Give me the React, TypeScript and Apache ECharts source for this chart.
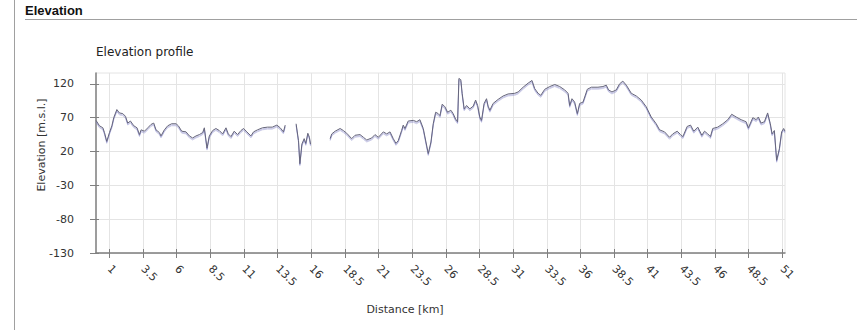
import React, { useEffect, useRef } from "react";
import * as echarts from "echarts";

const distanceKm: number[] = [
  0, 0.26, 0.51, 0.63, 0.8, 1.0, 1.18, 1.32, 1.55, 1.74, 1.99, 2.19, 2.36, 2.56, 2.81, 3.05, 3.23, 3.35, 3.6, 3.85,
  4.09, 4.29, 4.46, 4.71, 4.83, 5.08, 5.33, 5.62, 5.95, 6.12, 6.37, 6.69, 6.94, 7.18, 7.43, 7.68, 7.93, 8.05, 8.25, 8.42,
  8.67, 8.91, 9.16, 9.41, 9.66, 9.83, 10.03, 10.27, 10.52, 10.77, 10.97, 11.21, 11.51, 11.71, 12.0, 12.37, 12.75, 13.1, 13.44, 13.69,
  13.93, 14.06, 14.4,
  14.87, 15.05, 15.15, 15.3, 15.47, 15.59, 15.74, 15.86, 15.94, 16.6,
  17.4, 17.52, 17.77, 18.14, 18.38, 18.63, 19.0, 19.25, 19.62, 19.87, 20.12, 20.49, 20.73, 20.98, 21.35, 21.6, 21.85, 22.09, 22.29, 22.46,
  22.71, 22.83, 22.96, 23.2, 23.58, 23.83, 24.07, 24.32, 24.52, 24.69, 24.89, 25.06, 25.24, 25.43, 25.56, 25.73, 25.93, 26.13, 26.37, 26.54,
  26.72, 26.87, 26.97, 27.11, 27.21, 27.36, 27.54, 27.78, 28.03, 28.21, 28.36, 28.52, 28.65, 28.84, 29.02, 29.14, 29.27, 29.51, 29.88, 30.25,
  30.62, 31.12, 31.37, 31.74, 32.11, 32.4, 32.6, 32.85, 33.05, 33.35, 33.72, 34.09, 34.46, 34.83, 35.08, 35.2, 35.37, 35.57, 35.77, 35.94,
  36.19, 36.51, 36.81, 37.3, 37.67, 37.92, 38.09, 38.34, 38.66, 38.91, 39.15, 39.41, 39.78, 40.15, 40.52, 40.89, 41.26, 41.63, 41.88, 42.25,
  42.62, 42.86, 43.19, 43.44, 43.61, 43.93, 44.18, 44.42, 44.72, 45.02, 45.22, 45.46, 45.66, 45.83, 46.2, 46.58, 46.95, 47.24, 47.57, 47.94,
  48.31, 48.48, 48.81, 49.06, 49.22, 49.42, 49.67, 49.91, 50.11, 50.24, 50.41, 50.58, 50.78, 50.95, 51.1, 51.2,
];

const elevationM: (number | null)[] = [
  66, 58, 55, 48, 35, 48, 58, 70, 82, 77, 76, 72, 62, 65, 58, 55, 45, 52, 50, 55,
  60, 62, 52, 48, 43, 52, 58, 61, 61, 58, 50, 49, 43, 40, 43, 45, 48, 55, 25, 43,
  51, 54, 51, 46, 55, 46, 42, 50, 45, 51, 54, 49, 43, 49, 52, 55, 56, 56, 59, 55,
  49, 59, null,
  61, 36, 2, 31, 39, 32, 47, 41, 31, null,
  39, 46, 50, 54, 51, 47, 39, 44, 45, 41, 37, 40, 45, 41, 49, 46, 49, 39, 32, 36,
  51, 59, 54, 65, 66, 64, 67, 54, 34, 17, 34, 61, 78, 76, 73, 90, 86, 78, 81, 76,
  68, 64, 128, 126, 106, 83, 88, 83, 87, 96, 88, 71, 66, 91, 98, 87, 81, 91, 97, 102,
  105, 106, 108, 115, 121, 125, 113, 106, 103, 112, 116, 119, 116, 111, 106, 88, 98, 93, 76, 91,
  93, 112, 115, 115, 116, 118, 111, 108, 111, 120, 124, 118, 106, 102, 96, 86, 71, 61, 52, 49,
  41, 46, 50, 45, 42, 57, 59, 50, 56, 44, 50, 46, 42, 54, 56, 61, 67, 75, 71, 67,
  64, 55, 70, 67, 71, 62, 64, 77, 61, 46, 51, 7, 24, 49, 54, 50,
];

const xTickValues: number[] = [1, 3.5, 6, 8.5, 11, 13.5, 16, 18.5, 21, 23.5, 26, 28.5, 31, 33.5, 36, 38.5, 41, 43.5, 46, 48.5, 51];
const yTickValues: number[] = [-130, -80, -30, 20, 70, 120];

const FONT = "DejaVu Sans";

export default function App() {
  const ref = useRef<HTMLDivElement>(null);

  useEffect(() => {
    if (!ref.current) return;
    const chart = echarts.init(ref.current, null, { renderer: "svg" });
    const data = distanceKm.map((d, i) => [d, elevationM[i]]);

    const baseX = {
      type: "value" as const,
      min: 0,
      max: 51.2,
      gridIndex: 0,
    };
    const baseY = {
      type: "value" as const,
      min: -130,
      max: 136,
      gridIndex: 0,
    };

    chart.setOption({
      animation: false,
      backgroundColor: "#ffffff",
      title: {
        text: "Elevation profile",
        left: 96,
        top: 46,
        padding: 0,
        textStyle: { fontFamily: FONT, fontSize: 12, fontWeight: "normal", color: "#222" },
      },
      grid: {
        left: 96,
        right: 72,
        top: 73,
        bottom: 77,
        show: true,
        borderColor: "#e4e4e4",
        borderWidth: 1,
        backgroundColor: "transparent",
      },
      xAxis: [
        {
          ...baseX,
          position: "bottom",
          axisLine: { show: true, onZero: false, lineStyle: { color: "#808080", width: 1.5 } },
          axisTick: { show: true, length: 5, lineStyle: { color: "#808080" }, customValues: xTickValues },
          axisLabel: {
            customValues: xTickValues,
            rotate: -45,
            margin: 14,
            fontFamily: FONT,
            fontSize: 11,
            color: "#333",
          },
          splitLine: { show: true, lineStyle: { color: "#e4e4e4", width: 1 } },
        },
        {
          ...baseX,
          position: "bottom",
          axisLine: { show: false, onZero: false },
          axisTick: { show: true, inside: true, length: 4, lineStyle: { color: "#808080" }, customValues: xTickValues },
          axisLabel: { show: false },
          splitLine: { show: false },
        },
      ],
      yAxis: [
        {
          ...baseY,
          position: "left",
          axisLine: { show: true, onZero: false, lineStyle: { color: "#808080", width: 1.5 } },
          axisTick: { show: true, length: 6, lineStyle: { color: "#808080" }, customValues: yTickValues },
          axisLabel: {
            customValues: yTickValues,
            margin: 22,
            fontFamily: FONT,
            fontSize: 11,
            color: "#333",
          },
          splitLine: { show: true, lineStyle: { color: "#e4e4e4", width: 1 } },
        },
        {
          ...baseY,
          position: "left",
          axisLine: { show: false, onZero: false },
          axisTick: { show: true, inside: true, length: 3, lineStyle: { color: "#808080" }, customValues: yTickValues },
          axisLabel: { show: false },
          splitLine: { show: false },
        },
      ],
      graphic: [
        { type: "line", shape: { x1: 14.5, y1: 0, x2: 14.5, y2: 330 }, style: { stroke: "#a0a0a0", lineWidth: 1 } },
        { type: "line", shape: { x1: 25, y1: 19.5, x2: 857, y2: 19.5 }, style: { stroke: "#a0a0a0", lineWidth: 1 } },
        {
          type: "text",
          x: 25,
          y: 4,
          style: {
            text: "Elevation",
            font: "bold 13px 'Liberation Sans', Arial, sans-serif",
            fill: "#111",
            textVerticalAlign: "top",
          },
        },
        {
          type: "text",
          x: 41.5,
          y: 145,
          rotation: Math.PI / 2,
          style: {
            text: "Elevation [m.s.l.]",
            font: `11px '${FONT}'`,
            fill: "#333",
            textAlign: "center",
            textVerticalAlign: "middle",
          },
        },
        {
          type: "text",
          x: 405,
          y: 309,
          style: {
            text: "Distance [km]",
            font: `11px '${FONT}'`,
            fill: "#333",
            textAlign: "center",
            textVerticalAlign: "middle",
          },
        },
      ],
      series: [
        {
          type: "line",
          xAxisIndex: 0,
          yAxisIndex: 0,
          data,
          showSymbol: false,
          connectNulls: false,
          lineStyle: {
            color: "#66667a",
            width: 1,
            shadowColor: "rgba(125,125,195,0.8)",
            shadowOffsetY: 1.5,
            shadowBlur: 0,
          },
        },
      ],
    });

    return () => chart.dispose();
  }, []);

  return (
    <div
      ref={ref}
      style={{ position: "fixed", left: 0, top: 0, width: 857, height: 330, background: "#fff" }}
    />
  );
}
